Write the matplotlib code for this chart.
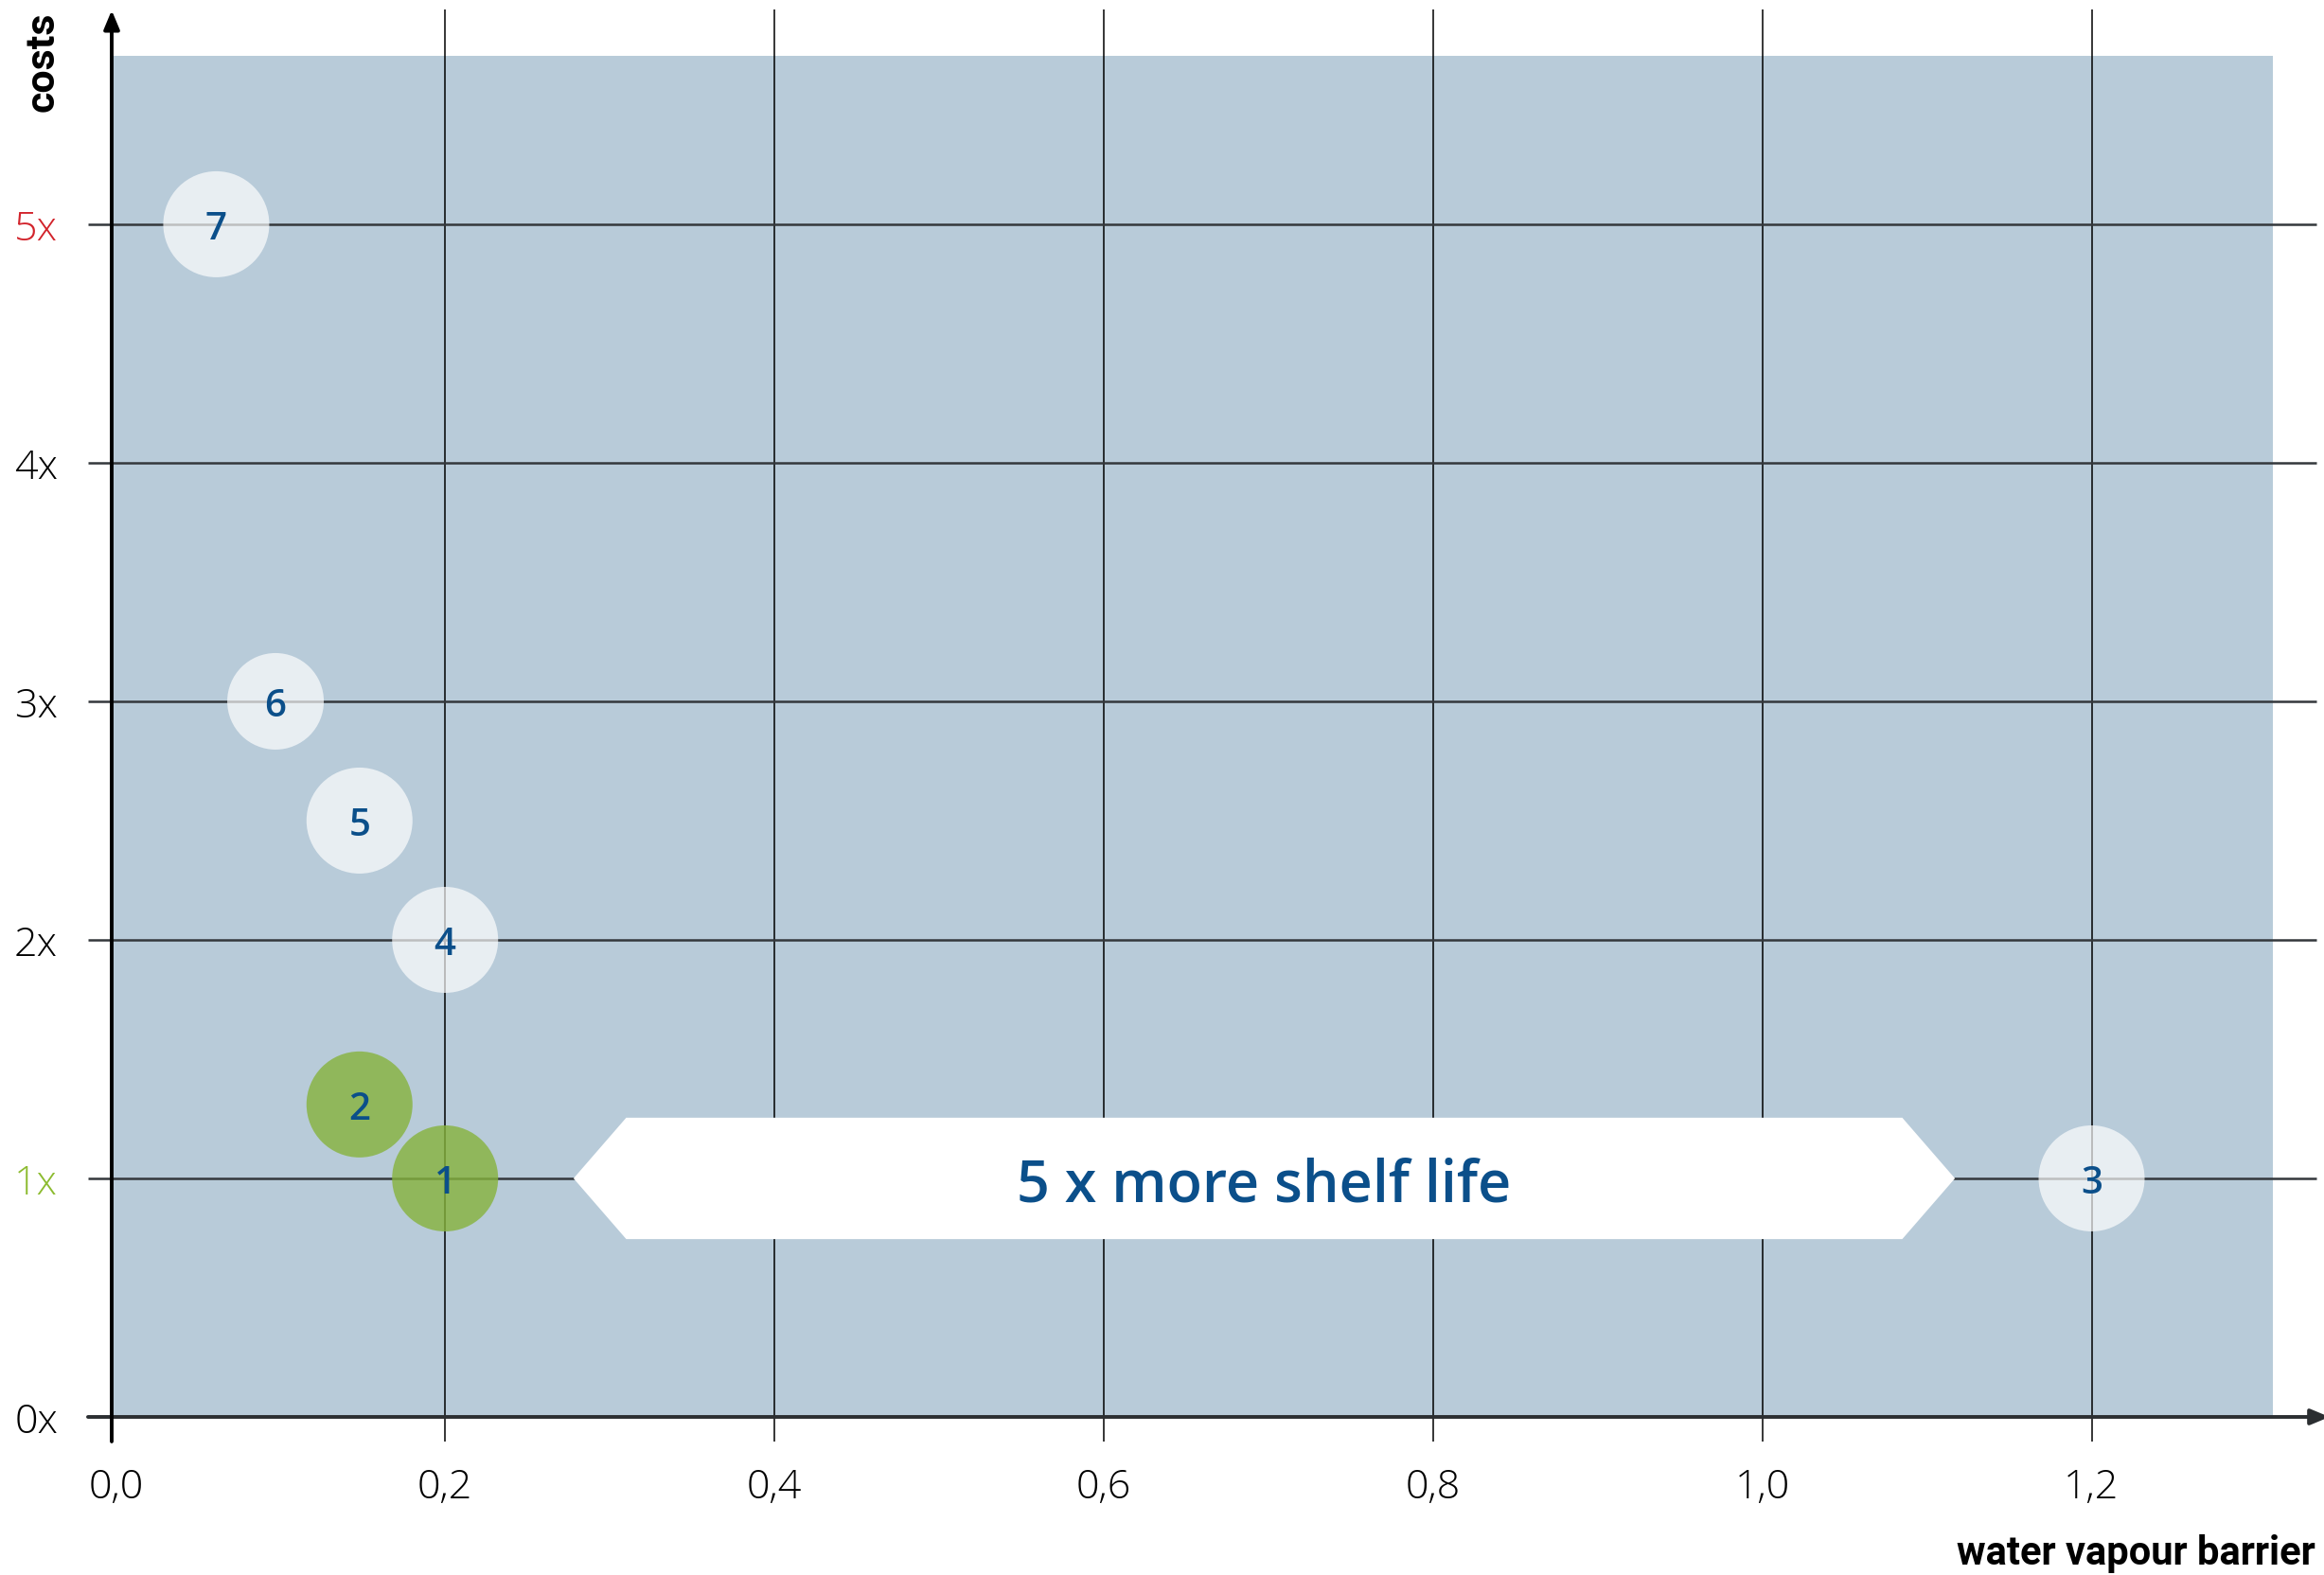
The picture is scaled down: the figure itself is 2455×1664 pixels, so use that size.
import matplotlib
matplotlib.use("Agg")
import matplotlib.pyplot as plt
from matplotlib.patches import Polygon

# ---------------- data ----------------
point_labels = ["1", "2", "3", "4", "5", "6", "7"]
barrier = [0.20, 0.148, 1.20, 0.20, 0.148, 0.097, 0.061]
costs = [1.0, 1.31, 1.0, 2.0, 2.5, 3.0, 5.0]
highlight = [True, True, False, False, False, False, False]

x_ticks = [0.0, 0.2, 0.4, 0.6, 0.8, 1.0, 1.2]
x_tick_labels = ["0,0", "0,2", "0,4", "0,6", "0,8", "1,0", "1,2"]
y_ticks = [0, 1, 2, 3, 4, 5]
y_tick_labels = ["0x", "1x", "2x", "3x", "4x", "5x"]

x_title = "water vapour barrier"
y_title = "costs"
callout_text = "5 x more shelf life"
callout_x = (0.278, 1.117)   # horizontal extent of the callout
callout_level = 1.0          # cost level the callout sits on

# ---------------- style ----------------
BG = "#b8cbd9"
NAVY = "#0b4f8a"
GREEN = "#86b33c"
LIGHT = "#ffffff"
RED = "#d2232b"
LGREEN = "#8cbb2f"
DPI = 100
W, H = 2455, 1665

def size_from_radius(r_px):
    d_pt = 2 * r_px * 72.0 / DPI
    return d_pt ** 2

radii_px = [56, 56, 56, 56, 56, 51, 56]

fig = plt.figure(figsize=(W / DPI, H / DPI), dpi=DPI)
ax = fig.add_axes([118 / W, 167 / H, (2401 - 118) / W, 1438 / H])
ax.set_xlim(-0.0025, 1.3101)
ax.set_ylim(0, 5.706)
ax.set_facecolor(BG)
for sp in ax.spines.values():
    sp.set_visible(False)

# grid lines extending beyond the plot area
ax.vlines(x_ticks[1:], -0.103, 5.901, colors="black", lw=1.1,
          clip_on=False, zorder=1)
ax.hlines(y_ticks[1:], -0.0169, 1.3365, colors="#34383c", lw=1.8,
          clip_on=False, zorder=1)

# axes with arrows
ax.annotate("", xy=(1.3445, 0), xytext=(-0.0169, 0),
            arrowprops=dict(arrowstyle="-|>,head_length=0.6,head_width=0.25",
                            lw=2.8, color="#2b2e31", shrinkA=0, shrinkB=0,
                            mutation_scale=20),
            annotation_clip=False, zorder=4)
ax.annotate("", xy=(-0.0025, 5.897), xytext=(-0.0025, -0.103),
            arrowprops=dict(arrowstyle="-|>,head_length=0.6,head_width=0.25",
                            lw=2.8, color="black", shrinkA=0, shrinkB=0,
                            mutation_scale=20),
            annotation_clip=False, zorder=4)

# callout shape
x0, x1 = callout_x
inset = 0.032
half_h = 0.2545
poly = Polygon([(x0, callout_level), (x0 + inset, callout_level + half_h),
                (x1 - inset, callout_level + half_h), (x1, callout_level),
                (x1 - inset, callout_level - half_h),
                (x0 + inset, callout_level - half_h)],
               closed=True, facecolor="white", edgecolor="none", zorder=2)
ax.add_patch(poly)
ax.text((x0 + x1) / 2, callout_level, callout_text, ha="center",
        va="center_baseline", color=NAVY, fontsize=44, fontweight="semibold",
        family=["Open Sans", "DejaVu Sans"], zorder=5)

# bubbles
for xv, yv, lab, hl, r in zip(barrier, costs, point_labels, highlight, radii_px):
    ax.scatter([xv], [yv], s=size_from_radius(r),
               color=GREEN if hl else LIGHT, alpha=0.8 if hl else 0.68,
               edgecolors="none", zorder=3, clip_on=False)
    ax.text(xv, yv, lab, ha="center", va="center_baseline", color=NAVY,
            fontsize=29, fontweight="semibold",
            family=["Open Sans", "DejaVu Sans"], zorder=5)

# ticks
ax.set_xticks(x_ticks, labels=x_tick_labels)
ax.set_yticks(y_ticks, labels=y_tick_labels)
ax.tick_params(axis="x", length=0, pad=38, labelsize=31)
ax.tick_params(axis="y", length=0, pad=41, labelsize=31)
for lbl in ax.get_xticklabels() + ax.get_yticklabels():
    lbl.set_family(["Open Sans", "DejaVu Sans"])
    lbl.set_fontweight("light")
ylbls = ax.get_yticklabels()
ylbls[1].set_color(LGREEN)
ylbls[5].set_color(RED)

# axis titles
title_font = ["Roboto", "DejaVu Sans"]
fig.text(2446 / W, 12 / H, x_title, fontsize=30, fontweight="bold",
         family=title_font, ha="right", va="baseline")
fig.text(45 / W, 1 - 12 / H, y_title, fontsize=31, fontweight="bold",
         family=title_font, rotation=90, ha="center", va="top")

fig.savefig("out.png", dpi=DPI)
